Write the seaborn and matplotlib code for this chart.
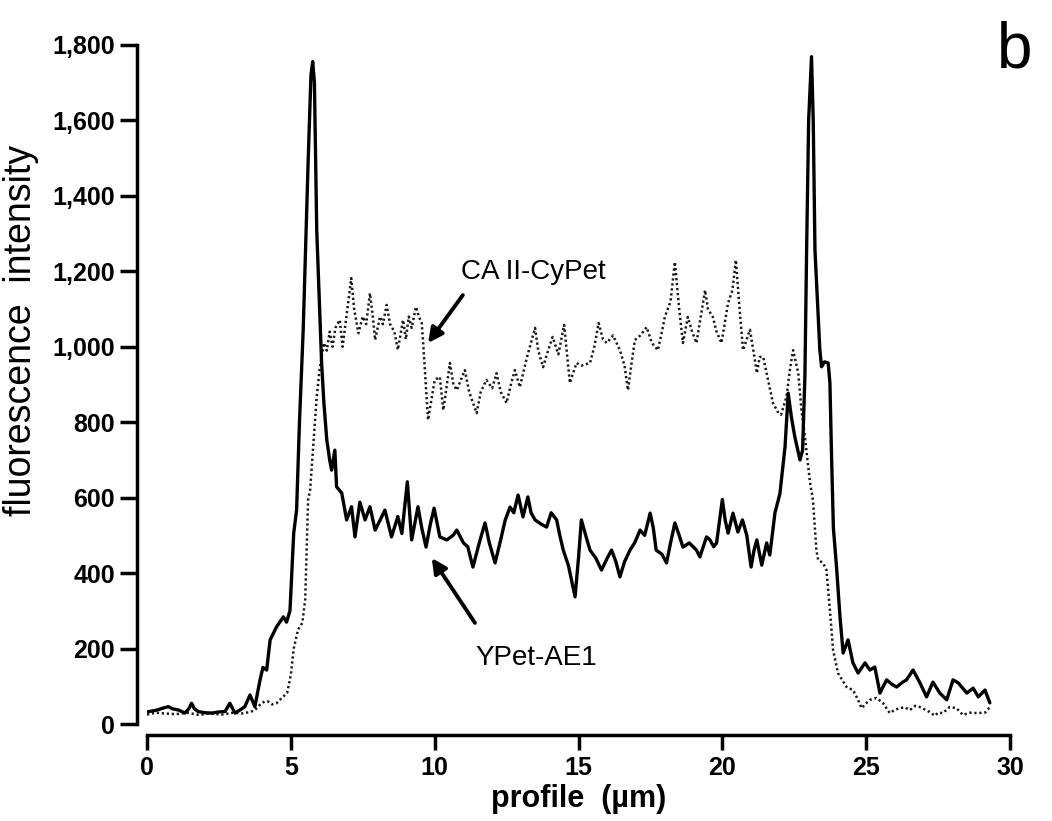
import numpy as np
import pandas as pd
import matplotlib
matplotlib.use("Agg")
import matplotlib.pyplot as plt
import seaborn as sns

# ---- data ----
ypet_x = [0.0, 0.2, 0.35, 0.55, 0.74, 0.9, 1.1, 1.32, 1.45, 1.55, 1.65, 1.78, 2.0, 2.25, 2.5, 2.71, 2.88,
          3.06, 3.25, 3.4, 3.58, 3.75, 3.93, 4.03, 4.16, 4.28, 4.5, 4.74, 4.85, 4.97, 5.1, 5.2, 5.3, 5.43,
          5.6, 5.7, 5.76, 5.82, 5.9, 6.0, 6.07, 6.15, 6.25, 6.35, 6.42, 6.53, 6.59, 6.77, 6.94, 7.11, 7.23,
          7.4, 7.58, 7.75, 7.93, 8.1, 8.27, 8.5, 8.72, 8.86, 9.05, 9.2, 9.42, 9.55, 9.7, 9.85, 9.98, 10.18,
          10.42, 10.64, 10.77, 11.0, 11.15, 11.33, 11.55, 11.75, 11.9, 12.1, 12.3, 12.45, 12.62, 12.75, 12.9,
          13.07, 13.24, 13.35, 13.49, 13.7, 13.89, 14.05, 14.24, 14.35, 14.47, 14.65, 14.88, 15.0, 15.1,
          15.25, 15.4, 15.6, 15.8, 16.0, 16.15, 16.3, 16.44, 16.6, 16.79, 16.95, 17.14, 17.3, 17.49, 17.6,
          17.7, 17.9, 18.06, 18.2, 18.35, 18.5, 18.63, 18.85, 19.1, 19.22, 19.45, 19.57, 19.7, 19.8, 20.0,
          20.1, 20.2, 20.37, 20.54, 20.7, 20.85, 21.0, 21.1, 21.2, 21.37, 21.54, 21.65, 21.83, 22.0, 22.18,
          22.29, 22.4, 22.52, 22.7, 22.79, 22.87, 22.93, 23.0, 23.1, 23.16, 23.22, 23.39, 23.45, 23.55,
          23.68, 23.74, 23.8, 23.86, 23.97, 24.09, 24.2, 24.37, 24.54, 24.72, 24.96, 25.13, 25.3, 25.48,
          25.71, 25.9, 26.06, 26.25, 26.4, 26.63, 26.87, 27.1, 27.32, 27.56, 27.8, 28.02, 28.2, 28.5,
          28.72, 28.9, 29.13, 29.3]
ypet_y = [32, 35, 37, 42, 46, 40, 37, 29, 40, 55, 40, 33, 30, 29, 32, 33, 55,
          29, 38, 46, 77, 46, 117, 150, 143, 223, 257, 284, 270, 300, 506, 567, 800, 1045,
          1487, 1720, 1756, 1700, 1310, 1100, 957, 850, 753, 700, 673, 726, 629, 612, 541, 576, 496,
          588, 541, 576, 514, 540, 567, 496, 550, 505, 642, 488, 576, 520, 469, 530, 572, 496,
          488, 500, 514, 480, 470, 416, 480, 533, 480, 427, 490, 540, 575, 560, 607,
          549, 602, 560, 541, 530, 522, 560, 541, 500, 461, 420, 337, 440, 541,
          500, 461, 440, 408, 440, 461, 430, 390, 430, 461, 480, 514, 500, 559, 520,
          461, 450, 427, 480, 533, 500, 469, 480, 461, 443, 496, 488, 470, 480, 595,
          540, 506, 559, 509, 541, 500, 416, 460, 488, 421, 480, 448, 560, 610, 735,
          877, 814, 761, 700, 726, 920, 1257, 1600, 1769, 1600, 1257, 991, 947, 960,
          957, 904, 700, 520, 416, 284, 188, 223, 162, 135, 162, 143, 151, 82,
          117, 105, 98, 110, 117, 143, 109, 72, 111, 82, 64, 117, 109, 82,
          95, 72, 90, 56]

cyp_x = [0.0, 0.3, 0.6, 1.0, 1.4, 1.8, 2.2, 2.6, 3.0, 3.3, 3.6, 3.75, 3.98, 4.1, 4.2, 4.35, 4.5, 4.7,
         4.87, 5.0, 5.1, 5.25, 5.4, 5.5, 5.6, 5.67, 5.8, 5.9, 6.0, 6.07, 6.15, 6.25, 6.35, 6.45, 6.55,
         6.7, 6.8, 6.95, 7.1, 7.2, 7.35, 7.5, 7.62, 7.75, 7.85, 7.93, 8.1, 8.2, 8.33, 8.45, 8.6, 8.72,
         8.9, 9.0, 9.1, 9.2, 9.35, 9.45, 9.55, 9.6, 9.77, 9.94, 10.0, 10.18, 10.3, 10.53, 10.65, 10.77,
         10.9, 11.05, 11.2, 11.46, 11.6, 11.8, 12.0, 12.15, 12.3, 12.5, 12.65, 12.79, 12.96, 13.2, 13.49,
         13.6, 13.77, 13.9, 14.1, 14.3, 14.5, 14.7, 14.93, 15.1, 15.4, 15.55, 15.7, 15.85, 15.98, 16.2,
         16.44, 16.6, 16.72, 16.85, 16.96, 17.15, 17.37, 17.55, 17.76, 17.9, 18.0, 18.2, 18.35, 18.5,
         18.63, 18.8, 18.95, 19.1, 19.25, 19.4, 19.5, 19.67, 19.8, 19.97, 20.2, 20.35, 20.47, 20.6,
         20.72, 20.85, 20.96, 21.1, 21.2, 21.3, 21.42, 21.54, 21.76, 21.93, 22.04, 22.23, 22.35, 22.46,
         22.55, 22.64, 22.75, 22.87, 23.05, 23.15, 23.27, 23.33, 23.5, 23.62, 23.74, 23.85, 24.02,
         24.32, 24.54, 24.72, 24.84, 25.0, 25.13, 25.36, 25.58, 25.82, 26.0, 26.17, 26.35, 26.52, 26.7,
         26.87, 27.05, 27.2, 27.39, 27.5, 27.67, 27.9, 28.14, 28.36, 28.6, 28.84, 29.13, 29.3]
cyp_y = [25, 30, 28, 26, 30, 24, 28, 25, 30, 28, 32, 37, 55, 60, 60, 52, 55, 70,
         82, 130, 200, 250, 268, 330, 594, 620, 760, 867, 940, 973, 1010, 990, 1040, 1000, 1050,
         1071, 1000, 1090, 1182, 1100, 1036, 1080, 1060, 1142, 1080, 1018, 1080, 1060, 1111, 1060, 1040, 992,
         1071, 1020, 1080, 1050, 1106, 1080, 1063, 1010, 806, 885, 912, 920, 832, 957, 900, 885,
         910, 938, 880, 824, 880, 912, 890, 930, 880, 851, 900, 938, 893, 970, 1050,
         990, 946, 980, 1026, 980, 1058, 904, 957, 950, 957, 1000, 1063, 1020, 1010, 1030,
         991, 950, 885, 960, 1018, 1030, 1052, 1010, 991, 1040, 1079, 1120, 1225, 1100,
         1010, 1079, 1040, 1010, 1080, 1150, 1100, 1079, 1040, 1010, 1116, 1150, 1230, 1100,
         991, 1020, 1045, 980, 930, 973, 973, 930, 851, 827, 820, 867, 940, 991,
         960, 930, 832, 761, 639, 594, 461, 435, 427, 408, 302, 196, 135,
         98, 90, 64, 42, 55, 64, 69, 56, 29, 38, 42, 44, 37, 48,
         45, 38, 32, 22, 30, 29, 45, 42, 24, 30, 29, 30, 45]

x_ticks = [0, 5, 10, 15, 20, 25, 30]
y_ticks = [0, 200, 400, 600, 800, 1000, 1200, 1400, 1600, 1800]
y_tick_labels = ["0", "200", "400", "600", "800", "1,000", "1,200", "1,400", "1,600", "1,800"]

df_ypet = pd.DataFrame({"profile": ypet_x, "intensity": ypet_y})
df_cyp = pd.DataFrame({"profile": cyp_x, "intensity": cyp_y})

# ---- style ----
sns.set_theme(style="ticks")
plt.rcParams["font.family"] = ["Liberation Sans", "DejaVu Sans"]
plt.rcParams["text.color"] = "black"
plt.rcParams["axes.labelcolor"] = "black"
plt.rcParams["xtick.color"] = "black"
plt.rcParams["ytick.color"] = "black"

fig = plt.figure(figsize=(10.52, 8.21), dpi=100)
ax = fig.add_axes([147 / 1052, 1 - 724 / 821, (1010 - 147) / 1052, (724 - 45) / 821])

sns.lineplot(data=df_cyp, x="profile", y="intensity", ax=ax, color="#1a1a1a",
             linewidth=1.8, linestyle=(0, (0.9, 1.1)), estimator=None)
sns.lineplot(data=df_ypet, x="profile", y="intensity", ax=ax, color="black",
             linewidth=2.4, estimator=None)

ax.set_xlim(0, 30)
ax.set_ylim(0, 1800)

for s in ["top", "right"]:
    ax.spines[s].set_visible(False)
for s in ["left", "bottom"]:
    ax.spines[s].set_linewidth(2.5)
    ax.spines[s].set_color("black")
ax.spines["left"].set_position(("outward", 7))
ax.spines["bottom"].set_position(("outward", 8))
ax.tick_params(axis="both", direction="out", length=11, width=2.5, color="black",
               labelcolor="black", pad=4)
ax.tick_params(axis="x", labelsize=18)
ax.tick_params(axis="y", labelsize=18, length=12)

ax.set_xticks(x_ticks)
ax.set_xticklabels([str(t) for t in x_ticks])
ax.set_yticks(y_ticks)
ax.set_yticklabels(y_tick_labels)
for lab in ax.get_xticklabels() + ax.get_yticklabels():
    lab.set_fontweight("bold")
    lab.set_color("black")

ax.set_xlabel("profile  (µm)", fontsize=22, fontweight="bold", color="black")
ax.xaxis.set_label_coords(0.5, -0.088)
ax.set_ylabel("fluorescence  intensity", fontsize=27, color="black")
ax.yaxis.set_label_coords(-0.125, 0.58)

# annotations
ax.annotate("", xy=(9.77, 1010), xytext=(10.98, 1137),
            arrowprops=dict(arrowstyle="-|>", lw=2.8, color="black", mutation_scale=22,
                            shrinkA=0, shrinkB=0))
ax.text(13.42, 1198, "CA II-CyPet", fontsize=20, ha="center", va="center", color="black")
ax.annotate("", xy=(9.9, 440), xytext=(11.4, 268),
            arrowprops=dict(arrowstyle="-|>", lw=2.8, color="black", mutation_scale=22,
                            shrinkA=0, shrinkB=0))
ax.text(13.52, 175, "YPet-AE1", fontsize=20, ha="center", va="center", color="black")

fig.text(1015 / 1052, 1 - 50 / 821, "b", fontsize=46, ha="center", va="center", color="black")

fig.savefig("out.png", dpi=100)
